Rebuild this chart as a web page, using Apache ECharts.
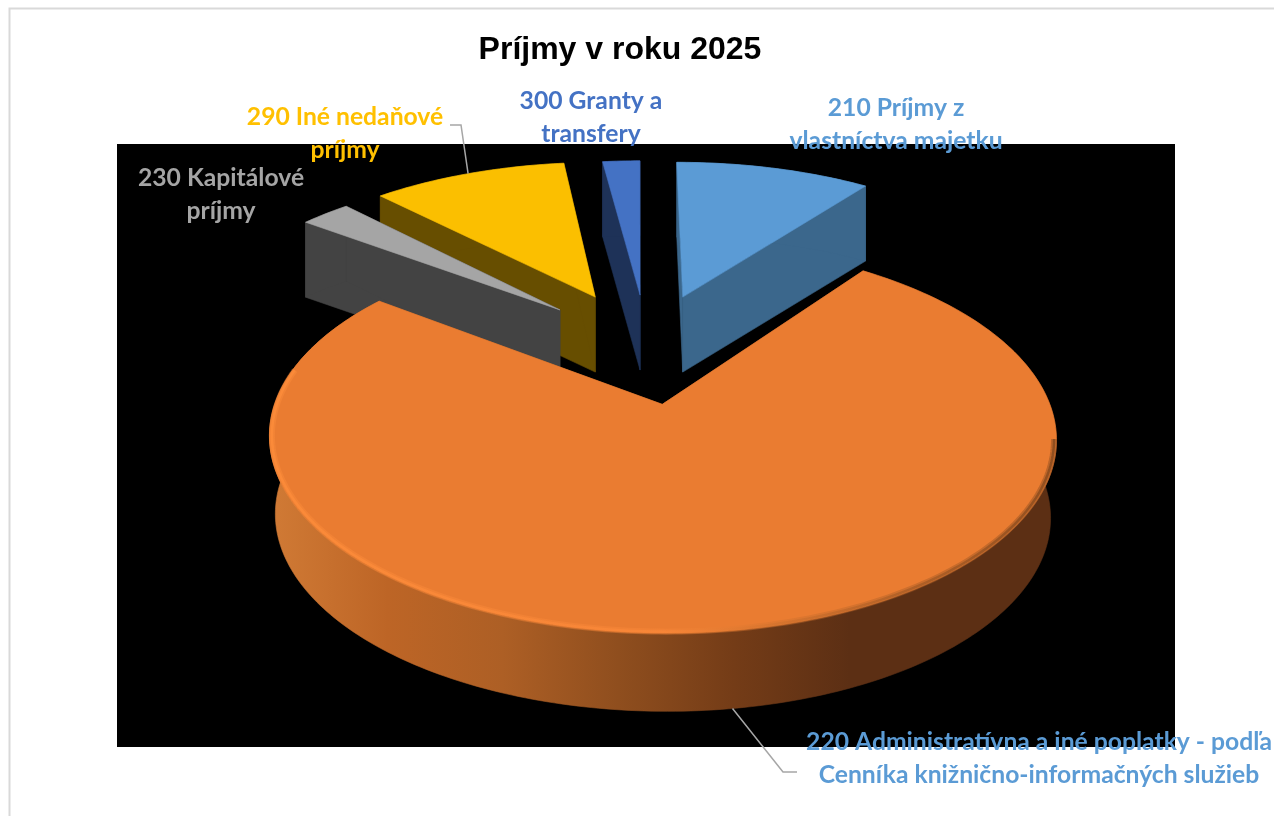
<!DOCTYPE html>
<html>
<head>
<meta charset="utf-8">
<style>html,body{margin:0;padding:0;background:#fff;overflow:hidden}#c{width:1274px;height:816px}</style>
<script src="https://cdn.jsdelivr.net/npm/echarts@6/dist/echarts.min.js"></script>
</head>
<body>
<div id="c"></div>
<script>
// ---- data (share of income, %) ----
const titleText = 'Príjmy v roku 2025';
const categories = [
  '210 Príjmy z\nvlastníctva majetku',
  '220 Administratívna a iné poplatky - podľa\nCenníka knižnično-informačných služieb',
  '230 Kapitálové\npríjmy',
  '290 Iné nedaňové\npríjmy',
  '300 Granty a\ntransfery'
];
const values = [10.2, 75.05, 2.6, 10.2, 1.95];

// ---- styles ----
const topColors  = ['#5b9bd5', '#ea7c31', '#a5a5a5', '#fbbf00', '#4472c4'];
const labelColors = ['#5b9bd5', '#5b9bd5', '#a5a5a5', '#ffc000', '#4472c4'];
const wallSolid  = ['#3b678c', null, '#434343', '#674e00', '#1e3258'];
const paintOrder = [2, 4, 3, 1, 0];

// ---- layout: perspective projection of the disc ----
const view = {cx: 639, cy: 326, rx: 360, ry: 163.5, persp: 0.16};
const radii = [1.01, 1.0, 1.01, 1.01, 1.01];
const depths = [75, 78, 75, 75, 75];
const explode = [[0.125, 0.182], [0.06, -0.445], [-0.223, 0.10], [-0.125, 0.182], [0.003, 0.195]];
const baseInset = [1, 0.985, 1, 1, 1];
const labelPos = [[896, 125], [1039, 759], [221, 195], [345, 134], [591, 118]];
const leaders = {1: [[783, 772], [797, 772]], 3: [[461, 125], [450, 125]]};

function project(X, Y) {
  const s = 1 / (1 + view.persp * Y);
  return [view.cx + view.rx * X * s, view.cy - view.ry * Y * s];
}
const total = values.reduce((a, b) => a + b, 0);
const angles = [];
values.reduce((acc, v) => { angles.push([acc, acc + v / total * 2 * Math.PI]); return acc + v / total * 2 * Math.PI; }, 0);

function rimPoint(i, a, r) {
  return project(explode[i][0] + r * Math.sin(a), explode[i][1] + r * Math.cos(a));
}
function arc(i, a0, a1, r) {
  const n = Math.max(4, Math.ceil(Math.abs(a1 - a0) * 60));
  const pts = [];
  for (let k = 0; k <= n; k++) pts.push(rimPoint(i, a0 + (a1 - a0) * k / n, r));
  return pts;
}
function downOf(i) {
  const mid = project(explode[i][0], explode[i][1])[0];
  return p => [mid + (p[0] - mid) * baseInset[i], p[1] + depths[i]];
}

const orangeWall = {type: 'linear', x: 272, y: 0, x2: 850, y2: 0, global: true, colorStops: [
  {offset: 0, color: '#d07a35'}, {offset: 0.2, color: '#bd6526'}, {offset: 0.4, color: '#ad5f25'},
  {offset: 0.6, color: '#8f4e1e'}, {offset: 0.8, color: '#743c17'}, {offset: 1, color: '#5c2f14'}]};
function bevel(alpha) {
  const a = h => h + alpha;
  return {type: 'linear', x: 272, y: 0, x2: 1056, y2: 0, global: true, colorStops: [
    {offset: 0, color: a('#ff8e3b')}, {offset: 0.5, color: a('#fb8839')}, {offset: 0.62, color: a('#d9762f')},
    {offset: 0.8, color: a('#a55b25')}, {offset: 1, color: a('#7a431b')}]};
}

function renderSlice(params) {
  const i = params.dataIndex;
  const [a0, a1] = angles[i];
  const z = paintOrder[i] * 10;
  const down = downOf(i);
  const apex = project(explode[i][0], explode[i][1]);
  const rim = arc(i, a0, a1, radii[i]);
  const fill = wallSolid[i] || orangeWall;
  const poly = (points, f, zz) => ({type: 'polygon', z2: zz, shape: {points}, style: {fill: f, stroke: f, lineWidth: 0.6}});
  const children = [
    poly([apex, rim[0], down(rim[0]), down(apex)], fill, z),
    poly([apex, rim[rim.length - 1], down(rim[rim.length - 1]), down(apex)], fill, z),
    poly(rim.concat(rim.map(down).reverse()), fill, z + 1),
    poly([apex].concat(rim), topColors[i], z + 2)
  ];
  if (i === 1) {
    const edge = arc(i, 4.9, 1.75, radii[i] - 0.006);
    children.push({type: 'polyline', z2: z + 3, shape: {points: edge}, style: {fill: 'none', stroke: bevel('66'), lineWidth: 6}});
    children.push({type: 'polyline', z2: z + 4, shape: {points: edge}, style: {fill: 'none', stroke: bevel('aa'), lineWidth: 2.5}});
  }
  return {type: 'group', children};
}

const labelGraphics = categories.map((t, i) => ({
  type: 'text', z: 20,
  style: {text: t, x: labelPos[i][0], y: labelPos[i][1], align: 'center', verticalAlign: 'middle',
    font: 'bold 24.7px Lato, "Noto Sans", sans-serif', lineHeight: 33, fill: labelColors[i]}
}));
const leaderGraphics = Object.keys(leaders).map(k => {
  const i = +k;
  const mid = (angles[i][0] + angles[i][1]) / 2;
  const p = rimPoint(i, mid, radii[i]);
  const start = i === 1 ? downOf(i)(p) : p;
  return {type: 'polyline', z: 15, shape: {points: [start].concat(leaders[k])},
    style: {fill: 'none', stroke: '#a6a6a6', lineWidth: 1.5}};
});

const chart = echarts.init(document.getElementById('c'), null, {renderer: 'canvas'});
chart.setOption({
  animation: false,
  backgroundColor: '#fff',
  title: {text: titleText, left: 615, top: 29, textAlign: 'center', z: 20,
    textStyle: {fontFamily: '"Liberation Sans", Arial, sans-serif', fontWeight: 'bold', fontSize: 32, color: '#000'}},
  graphic: {elements: [
    {type: 'rect', z: 0, shape: {x: 9.5, y: 8.5, width: 1400, height: 1000}, style: {fill: '#fff', stroke: '#d9d9d9', lineWidth: 2}},
    {type: 'rect', z: 1, shape: {x: 117, y: 144, width: 1058, height: 603}, style: {fill: '#000'}}
  ].concat(leaderGraphics, labelGraphics)},
  series: [{type: 'custom', coordinateSystem: 'none', z: 5, silent: true,
    data: values.map((v, i) => ({name: categories[i], value: v})), renderItem: renderSlice}]
});
</script>
</body>
</html>
